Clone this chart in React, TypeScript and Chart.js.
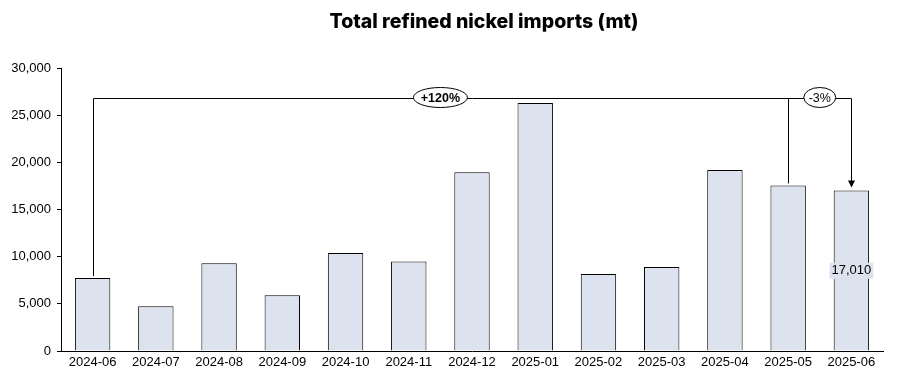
import React, { useEffect, useRef } from "react";
import { Chart, registerables } from "chart.js";

Chart.register(...registerables);

const TITLE = "Total refined nickel imports (mt)";
const CATEGORIES = [
  "2024-06", "2024-07", "2024-08", "2024-09", "2024-10", "2024-11", "2024-12",
  "2025-01", "2025-02", "2025-03", "2025-04", "2025-05", "2025-06",
];
const IMPORTS = [7730, 4750, 9300, 5900, 10400, 9500, 18950, 26300, 8150, 8900, 19200, 17550, 17010];
const Y_TICK_MAX = 30000;
const Y_TICK_STEP = 5000;
const BRACKET_LEVEL = 26800;
const CHANGE_LABELS = ["+120%", "-3%"];
const DATA_LABEL_INDEX = 12;

const BAR_FILL = "#DDE3EE";
const FONT = "'Liberation Sans', Arial, sans-serif";

const annotationPlugin = {
  id: "annotations",
  afterDraw(chart: any) {
    const ctx = chart.ctx;
    const xs = chart.scales.x;
    const ys = chart.scales.y;
    const n = IMPORTS.length;
    const xFirst = xs.getPixelForValue(0);
    const xPrev = xs.getPixelForValue(n - 2);
    const xLast = xs.getPixelForValue(n - 1);
    const yB = Math.round(ys.getPixelForValue(BRACKET_LEVEL)) + 0.5;
    const yFirst = ys.getPixelForValue(IMPORTS[0]);
    const yPrev = ys.getPixelForValue(IMPORTS[n - 2]);
    const yLast = ys.getPixelForValue(IMPORTS[n - 1]);

    ctx.save();
    // title
    ctx.fillStyle = "#000";
    ctx.font = "800 19.5px Inter, 'Noto Sans', sans-serif";
    ctx.textAlign = "center";
    ctx.textBaseline = "middle";
    ctx.fillText(TITLE, 484, 22);

    ctx.strokeStyle = "#000";
    ctx.lineWidth = 1;
    const px = (v: number) => Math.round(v) + 0.5;
    ctx.beginPath();
    ctx.moveTo(px(xFirst), yFirst - 2);
    ctx.lineTo(px(xFirst), yB);
    ctx.lineTo(px(xLast), yB);
    ctx.lineTo(px(xLast), yLast - 9);
    ctx.moveTo(px(xPrev), yB);
    ctx.lineTo(px(xPrev), yPrev - 2);
    ctx.stroke();
    // arrowhead
    ctx.fillStyle = "#000";
    ctx.beginPath();
    ctx.moveTo(px(xLast) - 3.5, yLast - 10);
    ctx.lineTo(px(xLast) + 3.5, yLast - 10);
    ctx.lineTo(px(xLast), yLast - 3);
    ctx.closePath();
    ctx.fill();

    const ellipse = (cx: number, cy: number, rw: number, rh: number, text: string, bold: boolean) => {
      ctx.beginPath();
      ctx.ellipse(cx, cy, rw, rh, 0, 0, Math.PI * 2);
      ctx.fillStyle = "#fff";
      ctx.fill();
      ctx.strokeStyle = "#000";
      ctx.stroke();
      ctx.fillStyle = "#000";
      ctx.font = (bold ? "bold " : "") + "12.5px " + FONT;
      ctx.textAlign = "center";
      ctx.textBaseline = "middle";
      ctx.fillText(text, cx, cy + 1);
    };
    ellipse((xFirst + xPrev) / 2, yB - 1, 27, 10, CHANGE_LABELS[0], true);
    ellipse((xPrev + xLast) / 2, yB - 1, 16, 10, CHANGE_LABELS[1], false);

    // data label
    const v = IMPORTS[DATA_LABEL_INDEX];
    const lx = xs.getPixelForValue(DATA_LABEL_INDEX);
    const ly = (ys.getPixelForValue(v) + ys.getPixelForValue(0)) / 2;
    const txt = v.toLocaleString("en-US");
    ctx.font = "13px " + FONT;
    const w = ctx.measureText(txt).width;
    ctx.fillStyle = BAR_FILL;
    ctx.fillRect(lx - w / 2 - 2, ly - 8, w + 4, 16);
    ctx.fillStyle = "#000";
    ctx.textAlign = "center";
    ctx.textBaseline = "middle";
    ctx.fillText(txt, lx, ly);
    ctx.restore();
  },
};

export default function App() {
  const ref = useRef<HTMLCanvasElement | null>(null);
  useEffect(() => {
    document.body.style.margin = "0";
    const chart = new Chart(ref.current!, {
      type: "bar",
      data: {
        labels: CATEGORIES,
        datasets: [
          {
            data: IMPORTS,
            backgroundColor: BAR_FILL,
            borderColor: "#000",
            borderWidth: 1,
            barPercentage: 0.56,
            categoryPercentage: 1,
          },
        ],
      },
      options: {
        responsive: false,
        animation: false,
        layout: { padding: { top: 68, right: 14, bottom: 0, left: 0 } },
        plugins: { legend: { display: false }, title: { display: false }, tooltip: { enabled: false } },
        scales: {
          x: {
            grid: { display: false, drawTicks: false },
            border: { display: true, color: "#000", width: 1 },
            ticks: { color: "#000", font: { family: FONT, size: 13 }, padding: 4, maxRotation: 0 },
            afterFit: (s: any) => { s.height = 39; },
          },
          y: {
            min: 0,
            max: Y_TICK_MAX,
            grid: { display: true, drawOnChartArea: false, drawTicks: true, tickLength: 4, color: "#000" },
            border: { display: true, color: "#000", width: 1 },
            ticks: {
              stepSize: Y_TICK_STEP,
              color: "#000",
              font: { family: FONT, size: 13 },
              padding: 6,
              callback: (v: any) => Number(v).toLocaleString("en-US"),
            },
            afterFit: (s: any) => { s.width = 61; },
          },
        },
      },
      plugins: [annotationPlugin],
    });
    return () => chart.destroy();
  }, []);
  return (
    <div style={{ position: "absolute", left: 0, top: 0, width: 897, height: 390, background: "#fff" }}>
      <canvas ref={ref} width={897} height={390} />
    </div>
  );
}
